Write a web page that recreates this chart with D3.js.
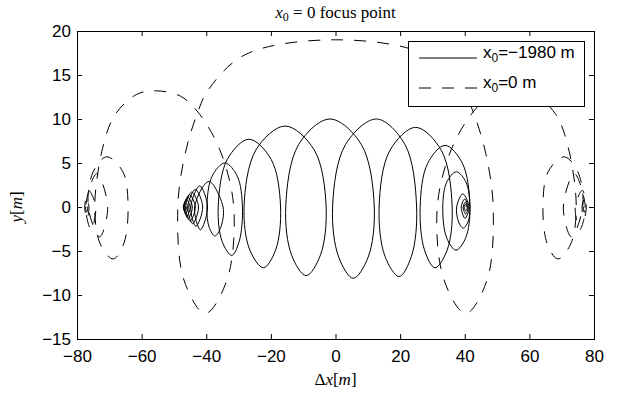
<!DOCTYPE html>
<html>
<head>
<meta charset="utf-8">
<script src="https://cdn.jsdelivr.net/npm/d3@7"></script>
<style>
  body { margin: 0; background: #fff; }
  svg { display: block; }
  .axis text { font-family: "Liberation Sans", Arial, Helvetica, sans-serif; font-size: 17px; fill: #000; }
  .axis line { stroke: #000; }
  .serif { font-family: "Liberation Serif", "DejaVu Serif", serif; fill: #000; }
  .sans { font-family: "Liberation Sans", Arial, Helvetica, sans-serif; fill: #000; }
</style>
</head>
<body>
<svg id="chart" width="622" height="395"></svg>
<script>
// Axis ticks
const xTicks = [-80, -60, -40, -20, 0, 20, 40, 60, 80];
const yTicks = [-15, -10, -5, 0, 5, 10, 15, 20];

// Trajectory for x0 = -1980 m : [Δx, y] in metres
const trackFar = [
  [-46.4, 0],
  [-46.0, 0], [-46.5, -0.35], [-47.0, 0], [-46.3, 0.45],
  [-45.6, 0], [-46.3, -0.7], [-47.1, 0], [-46.1, 0.8],
  [-45.0, 0], [-46.0, -1.0], [-47.0, 0], [-45.7, 1.1],
  [-44.3, 0], [-45.6, -1.3], [-46.8, 0], [-45.2, 1.4],
  [-43.4, 0], [-45.0, -1.6], [-46.4, 0], [-44.5, 1.7],
  [-42.4, 0], [-44.2, -1.9], [-45.7, 0], [-43.4, 2.0],
  [-41.1, 0], [-43.2, -2.2], [-44.8, 0], [-42.0, 2.4],
  [-39.6, 0], [-41.8, -2.6], [-43.6, 0], [-39.2, 2.9],
  [-34.8, 0], [-35.5, -2.3], [-37.3, -3.3], [-39.1, -2.3], [-39.8, 0], [-38.2, 3.5], [-34.2, 5.0], [-30.4, 3.5],
  [-28.8, 0], [-29.8, -3.9], [-32.1, -5.5], [-35.1, -3.9], [-36.3, 0], [-33.5, 5.4], [-26.8, 7.7], [-19.9, 5.4],
  [-17.0, 0], [-18.55, -4.9], [-22.3, -6.9], [-26.5, -4.9], [-28.3, 0], [-24.6, 6.5], [-15.6, 9.2], [-6.6, 6.5],
  [-2.9, 0], [-4.7, -5.5], [-9.1, -7.8], [-13.55, -5.5], [-15.4, 0], [-11.4, 7.1], [-1.7, 10.0], [8.0, 7.1],
  [12.0, 0], [10.1, -5.7], [5.5, -8.1], [1.0, -5.7], [-0.9, 0], [3.1, 7.1], [12.7, 10.0], [21.5, 7.1],
  [25.1, 0], [23.5, -5.6], [19.7, -7.9], [15.3, -5.6], [13.5, 0], [16.8, 6.4], [24.8, 9.05], [32.8, 6.4],
  [36.1, 0], [34.55, -4.9], [30.8, -6.9], [27.55, -4.9], [26.2, 0], [28.5, 4.95], [33.9, 7.0], [39.3, 4.95],
  [41.6, 0], [40.3, -3.5], [37.3, -4.9], [34.4, -3.5], [33.2, 0], [34.4, 2.8], [37.4, 4.0], [40.4, 2.8],
  [41.6, 0], [41.0, -1.7], [39.5, -2.4], [38.1, -1.7], [37.5, 0], [39.4, 1.5],
  [41.3, 0], [40.1, -1.3], [38.9, 0], [40.0, 0.9],
  [41.0, 0], [40.3, -0.8], [39.5, 0], [40.2, 0.55],
  [40.8, 0], [40.3, -0.45], [39.8, 0], [40.2, 0.3],
  [40.5, 0]
];

// Trajectory for x0 = 0 m : [Δx, y] in metres
const trackFocus = [
  [-77.0, 0],
  [-76.7, 0], [-77.0, -0.6], [-77.4, 0], [-76.9, 0.8],
  [-76.3, 0], [-76.9, -1.4], [-77.6, 0], [-76.4, 1.9],
  [-74.2, 0], [-75.6, -2.6], [-77.3, 0], [-73.9, 3.8],
  [-70.5, 0], [-73.0, -3.4], [-76.5, 0], [-75.0, 4.0], [-70.8, 5.7], [-65.8, 4.0],
  [-64.2, 0], [-65.55, -4.2], [-68.8, -5.9], [-72.8, -4.2], [-74.5, 0],
  [-72.0, 6.8], [-68.2, 10.5], [-61.5, 12.8], [-55.4, 13.2], [-48.0, 12.6], [-42.6, 10.8], [-35.8, 6.5],
  [-31.5, 0], [-33.6, -8.3], [-40.3, -12.1], [-46.9, -8.3], [-48.8, 0],
  [-46.5, 6.1], [-42.6, 10.8], [-39.4, 13.3], [-28.0, 17.3], [0.0, 19.0], [28.0, 17.3], [39.4, 13.3], [42.6, 10.8], [46.5, 6.1],
  [48.8, 0], [46.9, -8.3], [40.3, -12.1], [33.6, -8.3], [31.5, 0],
  [35.8, 6.5], [42.6, 10.8], [48.0, 12.6], [55.4, 13.2], [61.5, 12.8], [68.2, 10.5], [72.0, 6.8],
  [74.5, 0], [72.8, -4.2], [68.8, -5.9], [65.55, -4.2], [64.2, 0], [65.8, 4.0], [70.8, 5.7], [75.0, 4.0],
  [76.5, 0], [73.0, -3.4], [70.5, 0], [73.9, 3.8],
  [77.3, 0], [75.6, -2.6], [74.2, 0], [76.4, 1.9],
  [77.6, 0], [76.9, -1.4], [76.3, 0], [76.9, 0.8],
  [77.4, 0], [77.0, -0.6], [76.7, 0],
  [77.0, 0]
];

const legendEntries = [
  { base: "x", sub: "0", rest: "=\u22121980 m", dashed: false },
  { base: "x", sub: "0", rest: "=0 m", dashed: true }
];

const W = 622, H = 395;
const box = { left: 77, right: 594, top: 31, bottom: 339 };
const DASH = "12,11";

const svg = d3.select("#chart");
svg.append("rect").attr("width", W).attr("height", H).attr("fill", "#fff");

const x = d3.scaleLinear().domain([-80, 80]).range([box.left, box.right]);
const y = d3.scaleLinear().domain([-15, 20]).range([box.bottom, box.top]);

svg.append("defs").append("clipPath").attr("id", "plotClip")
  .append("rect")
  .attr("x", box.left).attr("y", box.top)
  .attr("width", box.right - box.left).attr("height", box.bottom - box.top);

const line = d3.line()
  .x(d => x(d[0]))
  .y(d => y(d[1]))
  .curve(d3.curveCatmullRom.alpha(0.5));

const plotG = svg.append("g").attr("clip-path", "url(#plotClip)");

plotG.append("path")
  .datum(trackFar)
  .attr("d", line)
  .attr("fill", "none")
  .attr("stroke", "#000")
  .attr("stroke-width", 1);

plotG.append("path")
  .datum(trackFocus)
  .attr("d", line)
  .attr("fill", "none")
  .attr("stroke", "#000")
  .attr("stroke-width", 1)
  .attr("stroke-dasharray", DASH);

// Axes: inward ticks on all four sides
const fmt = d3.format("");
svg.append("g").attr("class", "axis")
  .attr("transform", `translate(0,${box.bottom})`)
  .call(d3.axisBottom(x).tickValues(xTicks).tickSize(-5).tickSizeOuter(0).tickPadding(11).tickFormat(fmt))
  .call(g => g.select(".domain").remove());

svg.append("g").attr("class", "axis")
  .attr("transform", `translate(${box.left},0)`)
  .call(d3.axisLeft(y).tickValues(yTicks).tickSize(-5).tickSizeOuter(0).tickPadding(6).tickFormat(fmt))
  .call(g => g.select(".domain").remove());

svg.append("g").attr("class", "axis")
  .attr("transform", `translate(0,${box.top})`)
  .call(d3.axisTop(x).tickValues(xTicks).tickSize(-5).tickSizeOuter(0).tickFormat(""))
  .call(g => g.select(".domain").remove());

svg.append("g").attr("class", "axis")
  .attr("transform", `translate(${box.right},0)`)
  .call(d3.axisRight(y).tickValues(yTicks).tickSize(-5).tickSizeOuter(0).tickFormat(""))
  .call(g => g.select(".domain").remove());

svg.append("rect")
  .attr("x", box.left).attr("y", box.top)
  .attr("width", box.right - box.left).attr("height", box.bottom - box.top)
  .attr("fill", "none").attr("stroke", "#000").attr("stroke-width", 1)
  .attr("shape-rendering", "crispEdges");

// Title
const title = svg.append("text").attr("class", "serif")
  .attr("x", (box.left + box.right) / 2).attr("y", 18)
  .attr("text-anchor", "middle").attr("font-size", 17);
title.append("tspan").attr("font-style", "italic").text("x");
title.append("tspan").attr("font-size", 12).attr("dy", 3).text("0");
title.append("tspan").attr("dy", -3).text(" = 0 focus point");

// Axis labels
const xl = svg.append("text").attr("class", "serif")
  .attr("x", (box.left + box.right) / 2).attr("y", 385)
  .attr("text-anchor", "middle").attr("font-size", 17);
xl.append("tspan").text("\u0394");
xl.append("tspan").attr("font-style", "italic").text("x");
xl.append("tspan").text("[");
xl.append("tspan").attr("font-style", "italic").text("m");
xl.append("tspan").text("]");

const yl = svg.append("text").attr("class", "serif")
  .attr("transform", `translate(22,${y(0)}) rotate(-90)`)
  .attr("text-anchor", "middle").attr("font-size", 17);
yl.append("tspan").attr("font-style", "italic").text("y");
yl.append("tspan").text("[");
yl.append("tspan").attr("font-style", "italic").text("m");
yl.append("tspan").text("]");

// Legend
const lg = svg.append("g");
lg.append("rect")
  .attr("x", 408).attr("y", 41).attr("width", 176).attr("height", 65)
  .attr("fill", "#fff").attr("stroke", "#000").attr("stroke-width", 1)
  .attr("shape-rendering", "crispEdges");
legendEntries.forEach((e, i) => {
  const cy = 58 + i * 30;
  lg.append("line")
    .attr("x1", 419).attr("x2", 477).attr("y1", cy).attr("y2", cy)
    .attr("stroke", "#000").attr("stroke-width", 1)
    .attr("stroke-dasharray", e.dashed ? DASH : null);
  const t = lg.append("text").attr("class", "sans")
    .attr("x", 483).attr("y", cy).attr("font-size", 17);
  t.append("tspan").text(e.base);
  t.append("tspan").attr("font-size", 12).attr("dy", 4).text(e.sub);
  t.append("tspan").attr("dy", -4).text(e.rest);
});
</script>
</body>
</html>
